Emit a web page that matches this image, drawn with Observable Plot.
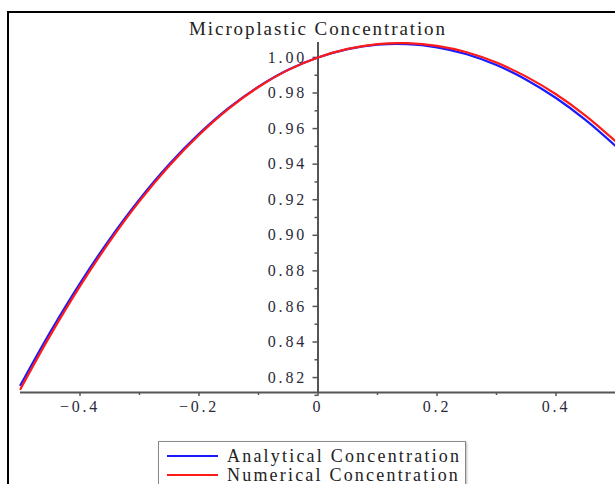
<!DOCTYPE html>
<html><head><meta charset="utf-8">
<script src="https://cdn.jsdelivr.net/npm/d3@7"></script>
<script src="https://cdn.jsdelivr.net/npm/@observablehq/plot@0.6"></script>
<style>
body{margin:0;background:#fff;}
#wrap{position:relative;width:615px;height:484px;overflow:hidden;font-family:"Liberation Serif","Times New Roman",serif;}
#frame{position:absolute;left:7px;top:11px;width:700px;height:600px;border-left:2px solid #000;border-top:2px solid #000;}
#title{position:absolute;left:0;width:636px;top:18px;text-align:center;font-size:19px;color:#222;letter-spacing:1.9px;white-space:nowrap;}
#chart{position:absolute;left:0;top:0;}
#chart svg text{font-family:"Liberation Serif","Times New Roman",serif !important;font-size:16px !important;letter-spacing:2.8px;fill:#2a2a3a;}
#legend{position:absolute;left:158px;top:441px;width:306px;height:60px;border:1.5px solid #888;box-shadow:1px 1px 2px #bbb;background:#fff;}
.row{position:absolute;left:8px;height:20px;display:flex;align-items:center;font-size:18px;color:#222;letter-spacing:2.2px;white-space:nowrap;}
.sw{width:51px;height:0;border-top:2px solid;margin-right:9px;}
</style></head>
<body>
<div id="wrap">
  <div id="frame"></div>
  <div id="chart"></div>
  <div id="title">Microplastic Concentration</div>
  <div id="legend"></div>
</div>
<script>
const xs = [-0.50,-0.45,-0.40,-0.35,-0.30,-0.25,-0.20,-0.15,-0.10,-0.05,0.00,0.05,0.10,0.15,0.20,0.25,0.30,0.35,0.40,0.45,0.50];
const analytical = [0.8158,0.8456,0.8730,0.8979,0.9202,0.9399,0.9570,0.9716,0.9836,0.9931,1.0000,1.0047,1.0072,1.0075,1.0057,1.0018,0.9957,0.9875,0.9772,0.9648,0.9503];
const numerical  = [0.8136,0.8437,0.8714,0.8966,0.9192,0.9391,0.9564,0.9712,0.9834,0.9930,1.0000,1.0048,1.0075,1.0080,1.0065,1.0029,0.9971,0.9892,0.9793,0.9672,0.9529];
const seriesNames = ["Analytical Concentration","Numerical Concentration"];
const seriesColors = ["#1a1aff","#ff1a1a"];
const xMajor = [-0.4,-0.2,0,0.2,0.4];
const xMinor = [-0.3,-0.1,0.1,0.3];
const yMajor = [0.82,0.84,0.86,0.88,0.90,0.92,0.94,0.96,0.98,1.00];
const yMinor = [0.81,0.83,0.85,0.87,0.89,0.91,0.93,0.95,0.97,0.99];
const xDomain = [-0.5,0.5];
const yDomain = [0.8116,1.0084];

const rows = [];
xs.forEach((x,i)=>{ rows.push({x, y: analytical[i], s: seriesNames[0]}); });
xs.forEach((x,i)=>{ rows.push({x, y: numerical[i], s: seriesNames[1]}); });
const fmtX = d => d === 0 ? "0" : (d < 0 ? "\u2212" : "") + Math.abs(d).toFixed(1);
const axisCol = "#555";
const chart = Plot.plot({
  width: 615, height: 430,
  marginLeft: 20, marginRight: 0, marginTop: 42, marginBottom: 38,
  style: {background: "transparent", overflow: "visible"},
  x: {domain: xDomain},
  y: {domain: yDomain},
  color: {domain: seriesNames, range: seriesColors},
  marks: [
    Plot.ruleY([yDomain[0]], {stroke: axisCol, strokeWidth: 2}),
    Plot.ruleX([0], {stroke: axisCol, strokeWidth: 2}),
    Plot.axisX({ticks: xMajor, tickSize: 4, tickPadding: 4, tickFormat: fmtX, stroke: axisCol, strokeWidth: 1.5, label: null}),
    Plot.axisX({ticks: xMinor, tickSize: 3, tickFormat: () => "", stroke: axisCol, strokeWidth: 1.5, label: null}),
    Plot.axisY({x: 0, ticks: yMajor, tickSize: 5, tickPadding: 6, tickFormat: d => d.toFixed(2), stroke: axisCol, strokeWidth: 1.5, label: null}),
    Plot.axisY({x: 0, ticks: yMinor, tickSize: 3, tickFormat: () => "", stroke: axisCol, strokeWidth: 1.5, label: null}),
    Plot.line(rows, {x: "x", y: "y", z: "s", stroke: "s", strokeWidth: 2.2, curve: "catmull-rom"})
  ]
});
document.getElementById("chart").appendChild(chart);

const leg = document.getElementById("legend");
seriesNames.forEach((n,i)=>{
  const r = document.createElement("div");
  r.className = "row";
  r.style.top = (4 + i*19) + "px";
  r.innerHTML = `<span class="sw" style="border-color:${seriesColors[i]}"></span><span>${n}</span>`;
  leg.appendChild(r);
});
</script>
</body></html>
